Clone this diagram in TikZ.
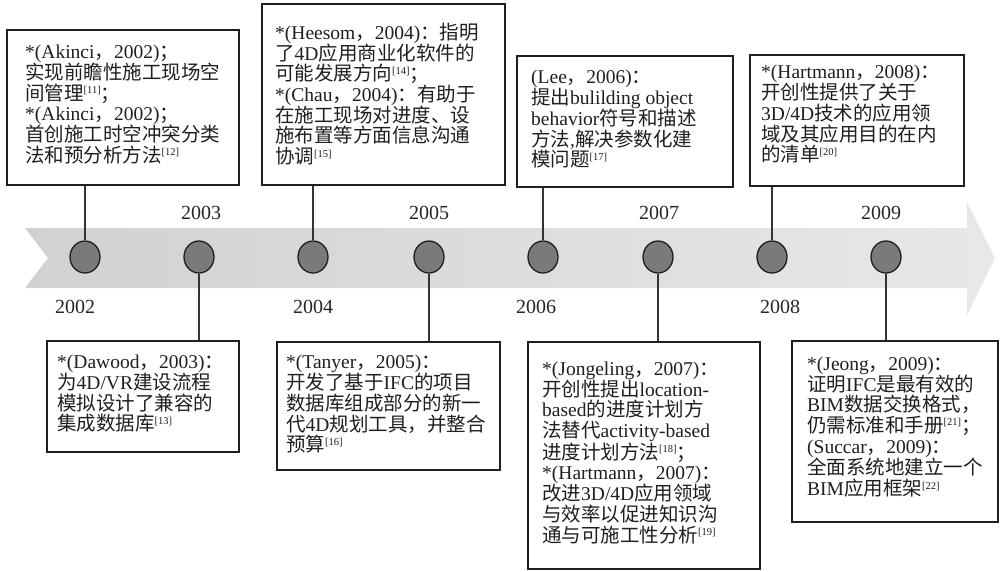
\documentclass[tikz,border=0pt]{standalone}
\usepackage{fontspec}
\setmainfont{Liberation Serif}
\newfontfamily\cjk{Noto Sans CJK SC}
\usetikzlibrary{shapes.geometric}
\newcommand\zh[1]{{\cjk #1}}
\newcommand\rf[1]{\raisebox{6.5pt}{\fontsize{10.5}{11}\selectfont[#1]}}
\begin{document}
\begin{tikzpicture}[x=1pt,y=-1pt,
  box/.style={draw=black!88, line width=1.8pt, fill=white, inner sep=0pt},
  txt/.style={anchor=west, align=left, inner sep=0pt, text=black!88, font=\fontsize{19.5}{20.7}\selectfont},
  dot/.style={ellipse, draw=black!88, line width=1.3pt, fill=black!52, minimum width=30pt, minimum height=32pt, inner sep=0pt},
  conn/.style={draw=black!80, line width=1.1pt},
  year/.style={font=\fontsize{20}{20}\selectfont, text=black!85, inner sep=0pt}]
\fill[white] (0,0) rectangle (1001,571);
\useasboundingbox (0,0) rectangle (1001,571);
% band arrow
\shade[left color=black!18, right color=black!9]
  (25,228) -- (967,228) -- (967,202) -- (995,258) -- (967,315) -- (967,288) -- (25,288) -- (48,258) -- cycle;
% boxes
\node[box, minimum width=232, minimum height=155] (b1) at (123,107.5) {};
\node[box, minimum width=243, minimum height=181] (b2) at (383.5,94.5) {};
\node[box, minimum width=216, minimum height=131] (b3) at (625,121.5) {};
\node[box, minimum width=214, minimum height=131] (b4) at (857,120.5) {};
\node[box, minimum width=192, minimum height=111] (b5) at (143,396.5) {};
\node[box, minimum width=223, minimum height=128] (b6) at (388.5,406) {};
\node[box, minimum width=232, minimum height=227] (b7) at (644,455.5) {};
\node[box, minimum width=206, minimum height=181] (b8) at (895,431.5) {};
% texts
\node[txt] (t1) at (25,104.5) {*(Akinci\zh{，}2002)\zh{；}\\
\zh{实现前瞻性施工现场空}\\
\zh{间管理}\rf{11}\zh{；}\\
{*}(Akinci\zh{，}2002)\zh{；}\\
\zh{首创施工时空冲突分类}\\
\zh{法和预分析方法}\rf{12}};
\node[txt] (t2) at (275,94) {*(Heesom\zh{，}2004)\zh{：指明}\\
\zh{了}4D\zh{应用商业化软件的}\\
\zh{可能发展方向}\rf{14}\zh{；}\\
{*}(Chau\zh{，}2004)\zh{：有助于}\\
\zh{在施工现场对进度、设}\\
\zh{施布置等方面信息沟通}\\
\zh{协调}\rf{15}};
\node[txt] (t3) at (531,119.4) {(Lee\zh{，}2006)\zh{：}\\
\zh{提出}bulilding~object\\
behavior\zh{符号和描述}\\
\zh{方法},\zh{解决参数化建}\\
\zh{模问题}\rf{17}};
\node[txt] (t4) at (761,114.4) {*(Hartmann\zh{，}2008)\zh{：}\\
\zh{开创性提供了关于}\\
3D/4D\zh{技术的应用领}\\
\zh{域及其应用目的在内}\\
\zh{的清单}\rf{20}};
\node[txt] (t5) at (57,394) {*(Dawood\zh{，}2003)\zh{：}\\
\zh{为}4D/VR\zh{建设流程}\\
\zh{模拟设计了兼容的}\\
\zh{集成数据库}\rf{13}};
\node[txt] (t6) at (286,404.4) {*(Tanyer\zh{，}2005)\zh{：}\\
\zh{开发了基于}IFC\zh{的项目}\\
\zh{数据库组成部分的新一}\\
\zh{代}4D\zh{规划工具，并整合}\\
\zh{预算}\rf{16}};
\node[txt] (t7) at (542,452.8) {*(Jongeling\zh{，}2007)\zh{：}\\
\zh{开创性提出}location-\\
based\zh{的进度计划方}\\
\zh{法替代}activity-based\\
\zh{进度计划方法}\rf{18}\zh{；}\\
{*}(Hartmann\zh{，}2007)\zh{：}\\
\zh{改进}3D/4D\zh{应用领域}\\
\zh{与效率以促进知识沟}\\
\zh{通与可施工性分析}\rf{19}};
\node[txt] (t8) at (807,427) {*(Jeong\zh{，}2009)\zh{：}\\
\zh{证明}IFC\zh{是最有效的}\\
BIM\zh{数据交换格式，}\\
\zh{仍需标准和手册}\rf{21}\zh{；}\\
(Succar\zh{，}2009)\zh{：}\\
\zh{全面系统地建立一个}\\
BIM\zh{应用框架}\rf{22}};
% circles
\node[dot] (c1) at (85,257) {};
\node[dot] (c2) at (199,257) {};
\node[dot] (c3) at (313,257) {};
\node[dot] (c4) at (429,257) {};
\node[dot] (c5) at (543,257) {};
\node[dot] (c6) at (658,257) {};
\node[dot] (c7) at (772,257) {};
\node[dot] (c8) at (886,257) {};
% connectors
\draw[conn] (c1) -- (c1 |- b1.south);
\draw[conn] (c2) -- (c2 |- b5.north);
\draw[conn] (c3) -- (c3 |- b2.south);
\draw[conn] (c4) -- (c4 |- b6.north);
\draw[conn] (c5) -- (c5 |- b3.south);
\draw[conn] (c6) -- (c6 |- b7.north);
\draw[conn] (c7) -- (c7 |- b4.south);
\draw[conn] (c8) -- (c8 |- b8.north);
% years
\node[year] (y2002) at (75,307) {2002};
\node[year] (y2003) at (201,213) {2003};
\node[year] (y2004) at (313,307) {2004};
\node[year] (y2005) at (429,213) {2005};
\node[year] (y2006) at (536,307) {2006};
\node[year] (y2007) at (659,213) {2007};
\node[year] (y2008) at (780,307) {2008};
\node[year] (y2009) at (881,213) {2009};
\end{tikzpicture}
\end{document}
